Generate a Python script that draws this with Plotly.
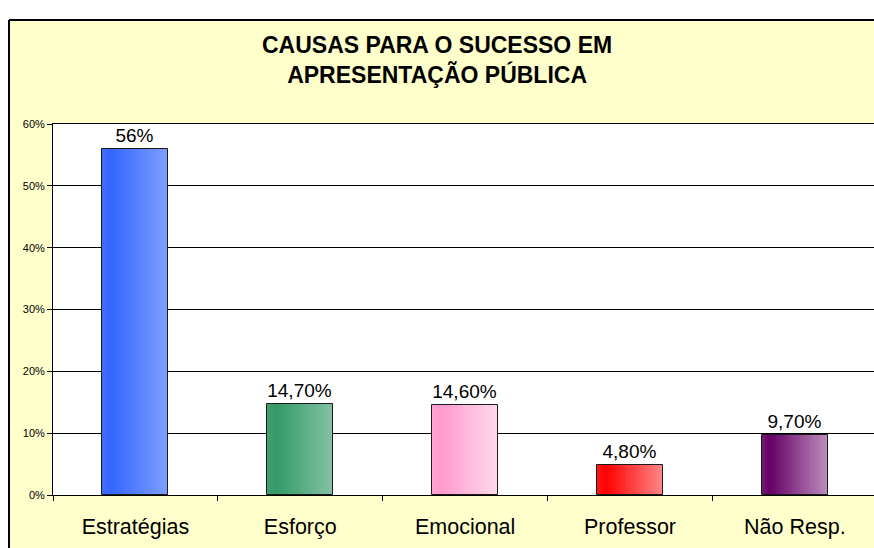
import plotly.graph_objects as go

# ---- data ----
categories = ["Estratégias", "Esforço", "Emocional", "Professor", "Não Resp."]
values = [0.56, 0.147, 0.146, 0.048, 0.097]
value_labels = ["56%", "14,70%", "14,60%", "4,80%", "9,70%"]
y_ticks = [0, 0.1, 0.2, 0.3, 0.4, 0.5, 0.6]
y_tick_labels = ["0%", "10%", "20%", "30%", "40%", "50%", "60%"]
title_text = "CAUSAS PARA O SUCESSO EM<br>APRESENTAÇÃO PÚBLICA"

# ---- styles ----
dark_colors = [(0x33, 0x66, 0xFF), (0x33, 0x99, 0x66), (0xFF, 0x99, 0xCC), (0xFF, 0x00, 0x00), (0x66, 0x00, 0x66)]
light_colors = [(0x7F, 0x9F, 0xFF), (0x85, 0xC2, 0xA5), (0xFF, 0xDA, 0xEC), (0xFF, 0x88, 0x88), (0xBE, 0x8E, 0xBE)]
FONT = "Liberation Sans, Arial, sans-serif"
W, H = 874, 548
L, R, T, B = 53, 0, 124, 53
BAR_W = 0.4
N_STRIPS = 24


def mix(c1, c2, t):
    return "rgb(%d,%d,%d)" % tuple(round(a + (b - a) * t) for a, b in zip(c1, c2))


def profile(u):
    # darkest slightly in from the left edge, lightening to the right
    if u < 0.12:
        return (0.12 - u) / 0.12 * 0.18
    return (u - 0.12) / 0.88


fig = go.Figure()
sw = BAR_W / N_STRIPS
for i in range(N_STRIPS):
    u = (i + 0.5) / N_STRIPS
    t = profile(u)
    fig.add_trace(go.Bar(
        x=categories, y=values,
        width=sw * 1.02, offset=-BAR_W / 2 + i * sw,
        marker=dict(color=[mix(d, l, t) for d, l in zip(dark_colors, light_colors)],
                    line=dict(width=0)),
        hoverinfo="skip", showlegend=False,
    ))

# outline + value labels
fig.add_trace(go.Bar(
    x=categories, y=values, width=BAR_W, offset=-BAR_W / 2,
    marker=dict(color="rgba(0,0,0,0)", line=dict(color="#1a1a1a", width=1)),
    text=value_labels, textposition="outside",
    textfont=dict(family=FONT, size=19, color="black"),
    cliponaxis=False, showlegend=False,
))

pw = W - L - R
ph = H - T - B
def px2x(px):
    return (px - L) / pw
def py2y(py):
    return (H - B - py) / ph

box_left = px2x(9)
box_top = py2y(20)

shapes = [
    # white margins outside the chart box
    dict(type="rect", xref="paper", yref="paper", x0=-1, x1=2, y0=box_top, y1=3,
         fillcolor="white", line=dict(width=0), layer="below"),
    dict(type="rect", xref="paper", yref="paper", x0=-1, x1=box_left, y0=-1, y1=3,
         fillcolor="white", line=dict(width=0), layer="below"),
    # chart box border
    dict(type="line", xref="paper", yref="paper", x0=box_left, x1=1.2, y0=box_top, y1=box_top,
         line=dict(color="black", width=2)),
    dict(type="line", xref="paper", yref="paper", x0=box_left, x1=box_left, y0=box_top, y1=-0.5,
         line=dict(color="black", width=2)),
]

fig.update_layout(
    width=W, height=H,
    margin=dict(l=L, r=R, t=T, b=B, pad=0),
    paper_bgcolor="#FFFFCC", plot_bgcolor="white",
    barmode="overlay", bargap=0,
    showlegend=False,
    font=dict(family=FONT, color="black"),
    shapes=shapes,
    annotations=[dict(
        text="<b>" + title_text + "</b>", xref="paper", yref="paper",
        x=px2x(437), y=py2y(60), xanchor="center", yanchor="middle",
        showarrow=False, font=dict(family=FONT, size=23, color="black"),
    )],
    xaxis=dict(
        type="category", categoryorder="array", categoryarray=categories,
        range=[-0.5, 4.48], tickson="boundaries", ticks="outside", ticklen=5,
        tickcolor="black", showline=True, linecolor="black", linewidth=1, mirror=True,
        showgrid=False, zeroline=False,
        tickfont=dict(family=FONT, size=21.5, color="black"),
        ticklabelstandoff=12,
    ),
    yaxis=dict(
        range=[0, 0.6], tickvals=y_ticks, ticktext=y_tick_labels,
        ticks="outside", ticklen=5, tickcolor="black",
        showline=True, linecolor="black", linewidth=1,
        showgrid=True, gridcolor="black", gridwidth=1, zeroline=False,
        tickfont=dict(family=FONT, size=11, color="black"),
    ),
)

fig.write_html(
    "out.html",
    config={"displayModeBar": False},
    post_script="document.body.style.margin='0';document.body.style.padding='0';",
)
